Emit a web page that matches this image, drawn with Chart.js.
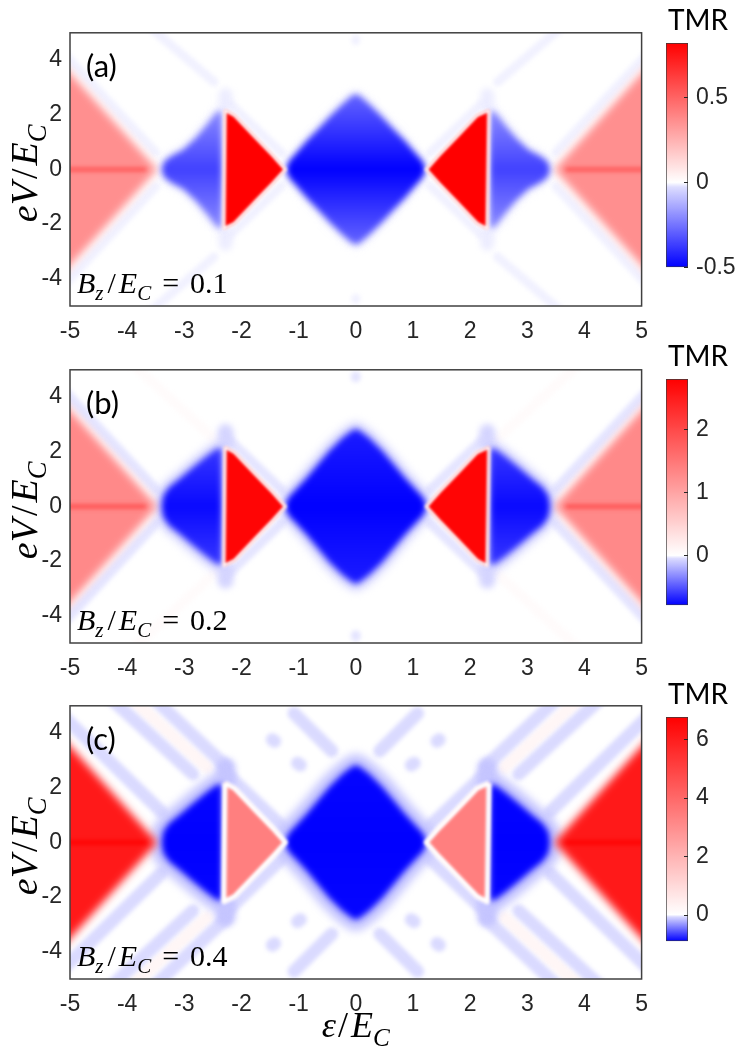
<!DOCTYPE html>
<html>
<head>
<meta charset="utf-8">
<script src="https://cdn.jsdelivr.net/npm/chart.js@4.4.1/dist/chart.umd.min.js"></script>
<style>
  html, body { margin: 0; padding: 0; background: #fff; }
  #page { position: relative; width: 747px; height: 1063px; overflow: hidden; background: #fff; }
  #page canvas { position: absolute; }
</style>
</head>
<body>
<div id="page"></div>
<script>
// axis ticks
const epsTicks = [-5, -4, -3, -2, -1, 0, 1, 2, 3, 4, 5];
const voltTicks = [-4, -2, 0, 2, 4];
const panelTags = ["(a)", "(b)", "(c)"];
const bzValues = ["0.1", "0.2", "0.4"];

// colour bar limits and ticks, one entry per panel
const cbLow = [-0.5, -0.79, -0.9];
const cbHigh = [0.82, 2.8, 6.76];
const cbTicks = [[-0.5, 0, 0.5], [0, 1, 2], [0, 2, 4, 6]];

// TMR level of each region, one entry per panel
const outerTmr = [0.36, 1.3, 6.1];
const outerAxisTmr = [0.55, 1.95, 6.76];
const lobeTmr = [-0.2, -0.6, -0.88];
const lobeCoreTmr = [-0.36, -0.76, -0.9];
const innerTmr = [0.82, 2.75, 3.4];
const diamondTmr = [-0.28, -0.7, -0.88];
const diamondCoreTmr = [-0.5, -0.79, -0.9];
const stripeTmr = [-0.012, -0.035, -0.06];
const haloTmr = [-0.015, -0.07, -0.14];
const pinkTmr = [0.01, 0.04, 0.25];

// region outlines (eps/E_C, eV/E_C)
const outerLeft = [[-5.4, 4.45], [-3.55, 0.18], [-3.47, 0], [-3.55, -0.18], [-5.4, -4.45]];
const outerRight = [[5.4, 4.45], [3.55, 0.18], [3.47, 0], [3.55, -0.18], [5.4, -4.45]];
const axisLeft = [-5.4, 0, -3.7, 0];
const axisRight = [5.4, 0, 3.7, 0];

const lobeThinLeft = [[-3.4, 0], [-3.35, 0.3], [-3.22, 0.5], [-3.02, 0.72], [-2.8, 1.15], [-2.62, 1.6], [-2.48, 1.98], [-2.4, 2.15], [-2.34, 2.12],
  [-2.34, -2.12], [-2.4, -2.15], [-2.48, -1.98], [-2.62, -1.6], [-2.8, -1.15], [-3.02, -0.72], [-3.22, -0.5], [-3.35, -0.3]];
const lobeThinRight = [[3.4, 0], [3.35, 0.3], [3.22, 0.5], [3.02, 0.72], [2.8, 1.15], [2.62, 1.6], [2.48, 1.98], [2.4, 2.15], [2.34, 2.12],
  [2.34, -2.12], [2.4, -2.15], [2.48, -1.98], [2.62, -1.6], [2.8, -1.15], [3.02, -0.72], [3.22, -0.5], [3.35, -0.3]];
const lobeFatLeft = [[-3.4, 0], [-3.37, 0.4], [-3.27, 0.7], [-3.08, 1.02], [-2.84, 1.45], [-2.6, 1.86], [-2.43, 2.12], [-2.34, 2.12],
  [-2.34, -2.12], [-2.43, -2.12], [-2.6, -1.86], [-2.84, -1.45], [-3.08, -1.02], [-3.27, -0.7], [-3.37, -0.4]];
const lobeFatRight = [[3.4, 0], [3.37, 0.4], [3.27, 0.7], [3.08, 1.02], [2.84, 1.45], [2.6, 1.86], [2.43, 2.12], [2.34, 2.12],
  [2.34, -2.12], [2.43, -2.12], [2.6, -1.86], [2.84, -1.45], [3.08, -1.02], [3.27, -0.7], [3.37, -0.4]];

const innerLeft = [[-2.29, 2.18], [-2.12, 1.98], [-1.75, 1.17], [-1.45, 0.52], [-1.23, 0], [-1.45, -0.52], [-1.75, -1.17], [-2.12, -1.98], [-2.31, -2.18]];
const innerRight = [[2.33, 2.18], [2.12, 1.98], [1.75, 1.17], [1.45, 0.52], [1.23, 0], [1.45, -0.52], [1.75, -1.17], [2.12, -1.98], [2.3, -2.18]];

const diamondThin = [[-1.22, 0], [-1.17, 0.3], [-1.05, 0.58], [-0.86, 1.05], [-0.65, 1.5], [-0.45, 1.95], [-0.24, 2.38], [-0.08, 2.68], [0, 2.76],
  [0.08, 2.68], [0.24, 2.38], [0.45, 1.95], [0.65, 1.5], [0.86, 1.05], [1.05, 0.58], [1.17, 0.3], [1.22, 0],
  [1.17, -0.3], [1.05, -0.58], [0.86, -1.05], [0.65, -1.5], [0.45, -1.95], [0.24, -2.38], [0.08, -2.68], [0, -2.76],
  [-0.08, -2.68], [-0.24, -2.38], [-0.45, -1.95], [-0.65, -1.5], [-0.86, -1.05], [-1.05, -0.58], [-1.17, -0.3]];
const diamondWide = [[-1.24, 0], [-1.18, 0.33], [-1.05, 0.62], [-0.86, 1.05], [-0.66, 1.55], [-0.46, 2.05], [-0.24, 2.5], [-0.08, 2.76], [0, 2.84],
  [0.08, 2.76], [0.24, 2.5], [0.46, 2.05], [0.66, 1.55], [0.86, 1.05], [1.05, 0.62], [1.18, 0.33], [1.24, 0],
  [1.18, -0.33], [1.05, -0.62], [0.86, -1.05], [0.66, -1.55], [0.46, -2.05], [0.24, -2.5], [0.08, -2.76], [0, -2.84],
  [-0.08, -2.76], [-0.24, -2.5], [-0.46, -2.05], [-0.66, -1.55], [-0.86, -1.05], [-1.05, -0.62], [-1.18, -0.33]];

// faint diagonal stripes, each [eps1, V1, eps2, V2]
const stripesOuter = [[-5.4, 4.9, -3.5, 0.62], [-5.4, -4.9, -3.5, -0.62], [5.4, 4.9, 3.5, 0.62], [5.4, -4.9, 3.5, -0.62]];
const stripesTopA = [[-3.65, 5.3, -2.48, 3.2], [-3.65, -5.3, -2.48, -3.2], [3.65, 5.3, 2.48, 3.2], [3.65, -5.3, 2.48, -3.2]];
const dotsAB = [[0, 4.76, 0, 4.72], [0, -4.76, 0, -4.72]];
const pinkB = [[-3.95, 5.3, -2.48, 2.47], [-3.95, -5.3, -2.48, -2.47], [3.95, 5.3, 2.48, 2.47], [3.95, -5.3, 2.48, -2.47]];
const stripesC = [
  [-5.4, 5.2, -3.4, 1.12], [-5.4, -5.2, -3.4, -1.12], [5.4, 5.2, 3.4, 1.12], [5.4, -5.2, 3.4, -1.12],
  [-4.35, 5.4, -2.85, 2.5], [-4.35, -5.4, -2.85, -2.5], [4.35, 5.4, 2.85, 2.5], [4.35, -5.4, 2.85, -2.5],
  [-3.6, 5.4, -2.28, 2.8], [-3.6, -5.4, -2.28, -2.8], [3.6, 5.4, 2.28, 2.8], [3.6, -5.4, 2.28, -2.8],
  [-1.08, 4.72, -0.42, 3.35], [-1.08, -4.72, -0.42, -3.35], [1.08, 4.72, 0.42, 3.35], [1.08, -4.72, 0.42, -3.35],
  [-1.46, 3.76, -1.42, 3.7], [-1.46, -3.76, -1.42, -3.7], [1.46, 3.76, 1.42, 3.7], [1.46, -3.76, 1.42, -3.7],
  [-1.02, 2.9, -0.97, 2.83], [-1.02, -2.9, -0.97, -2.83], [1.02, 2.9, 0.97, 2.83], [1.02, -2.9, 0.97, -2.83]
];
const pinkC = [[-4.0, 5.4, -2.6, 2.75], [-4.0, -5.4, -2.6, -2.75], [4.0, 5.4, 2.6, 2.75], [4.0, -5.4, 2.6, -2.75]];
const tipBlobs = [[-2.28, 2.3, -2.28, 2.72], [-2.28, -2.3, -2.28, -2.72], [2.3, 2.3, 2.3, 2.72], [2.3, -2.3, 2.3, -2.72]];
const neckBands = [[-2.2, 2.4, -1.3, 0.6], [-2.2, -2.4, -1.3, -0.6], [2.2, 2.4, 1.3, 0.6], [2.2, -2.4, 1.3, -0.6]];

// which outlines each panel uses, plus stroke widths (px)
const panelShapes = [
  { lobeL: lobeThinLeft, lobeR: lobeThinRight, diamond: diamondThin, stripes: stripesOuter.concat(stripesTopA, dotsAB), pink: [], haloW: 6, stripeW: 9, blobW: 14, rimW: 3 },
  { lobeL: lobeFatLeft, lobeR: lobeFatRight, diamond: diamondWide, stripes: stripesOuter.concat(dotsAB), pink: pinkB, haloW: 14, stripeW: 10, blobW: 16, rimW: 3 },
  { lobeL: lobeFatLeft, lobeR: lobeFatRight, diamond: diamondWide, stripes: stripesC, pink: pinkC, haloW: 22, stripeW: 13, blobW: 20, rimW: 5 }
];

// page layout (px)
const mapTop = [21, 358, 694];
const mapH = 285;
const cbTop = [43, 379, 717];
const cbH = [241, 243, 241];
const xAxisH = [40, 40, 80];

const tickFont = { family: '"Liberation Sans", Arial, sans-serif', size: 23 };
const tickColor = "#262626";

// blue-white-red map: white at zero, short pale step just below zero
function tmrColor(v, lo, hi) {
  if (v >= 0) {
    const t = Math.min(v / hi, 1);
    const g = Math.round(255 * (1 - t));
    return `rgb(255,${g},${g})`;
  }
  const t = Math.min(v / lo, 1);
  const s = t < 0.06 ? 1 - 0.14 * t / 0.06 : 0.86 * (1 - t) / 0.94;
  const g = Math.round(255 * s);
  return `rgb(${g},${g},255)`;
}

function poly(points, extra) {
  return Object.assign({
    data: points.concat([points[0]]).map(([x, y]) => ({ x, y })),
    showLine: true, fill: "shape", pointRadius: 0, borderWidth: 0, tension: 0, clip: 0
  }, extra);
}

function seg(s, color, width, blur) {
  return {
    data: [{ x: s[0], y: s[1] }, { x: s[2], y: s[3] }],
    showLine: true, fill: false, pointRadius: 0, borderColor: color, borderWidth: width,
    borderCapStyle: "round", clip: 0, blur: blur
  };
}

// vertical gradient: edge colour at +-reach, core colour on the V = 0 line
function vGrad(reach, edge, core) {
  return (c) => {
    const chart = c.chart;
    const y = chart.scales.y;
    if (!y || !chart.chartArea) return core;
    const g = chart.ctx.createLinearGradient(0, y.getPixelForValue(reach), 0, y.getPixelForValue(-reach));
    g.addColorStop(0, edge);
    g.addColorStop(0.5, core);
    g.addColorStop(1, edge);
    return g;
  };
}

function mapDatasets(p) {
  const cfg = panelShapes[p];
  const c = (v) => tmrColor(v, cbLow[p], cbHigh[p]);
  const list = []; // bottom to top
  cfg.pink.forEach(s => list.push(seg(s, c(pinkTmr[p]), cfg.stripeW, 2)));
  cfg.stripes.forEach(s => list.push(seg(s, c(stripeTmr[p]), cfg.stripeW, 2)));
  neckBands.forEach(s => list.push(seg(s, c(stripeTmr[p]), cfg.stripeW, 2)));
  tipBlobs.forEach(s => list.push(seg(s, c(haloTmr[p]), cfg.blobW, 3)));
  [cfg.lobeL, cfg.lobeR, cfg.diamond].forEach(sh => list.push(poly(sh, {
    backgroundColor: c(haloTmr[p]), borderColor: c(haloTmr[p]), borderWidth: cfg.haloW, borderJoinStyle: "round", blur: 4
  })));
  [outerLeft, outerRight].forEach(sh => list.push(poly(sh, { backgroundColor: c(outerTmr[p]), blur: 4 })));
  [axisLeft, axisRight].forEach(s => list.push(seg(s, c(outerAxisTmr[p]), 4, 2)));
  [cfg.lobeL, cfg.lobeR].forEach(sh => list.push(poly(sh, {
    backgroundColor: vGrad(2.2, c(lobeTmr[p]), c(lobeCoreTmr[p])), blur: 3
  })));
  list.push(poly(cfg.diamond, { backgroundColor: vGrad(2.8, c(diamondTmr[p]), c(diamondCoreTmr[p])), blur: 3 }));
  [innerLeft, innerRight].forEach(sh => list.push(poly(sh, {
    backgroundColor: c(innerTmr[p]), borderColor: "#fff", borderWidth: cfg.rimW, borderJoinStyle: "round", blur: 1.5
  })));
  return list.reverse(); // index 0 is drawn last
}

// per-dataset blur: set the filter for the next dataset before it is drawn
function setBlur(chart, pos) {
  const metas = chart.getSortedVisibleDatasetMetas();
  const ds = pos >= 0 ? chart.data.datasets[metas[pos].index] : null;
  chart.ctx.filter = ds && ds.blur ? `blur(${ds.blur}px)` : "none";
}
const softEdges = {
  id: "softEdges",
  beforeDatasetsDraw(chart) { setBlur(chart, chart.getSortedVisibleDatasetMetas().length - 1); },
  afterDatasetDraw(chart, args) {
    const metas = chart.getSortedVisibleDatasetMetas();
    setBlur(chart, metas.indexOf(args.meta) - 1);
  },
  afterDatasetsDraw(chart) { chart.ctx.filter = "none"; }
};

function mathRun(ctx, pieces, x, y, size, draw) {
  let cx = x;
  for (const p of pieces) {
    const fs = p.sub ? size * 0.7 : size;
    ctx.font = (p.it ? "italic " : "") + fs + 'px "Liberation Serif", "DejaVu Serif", serif';
    cx += p.pre || 0;
    if (draw) ctx.fillText(p.t, cx, y + (p.sub ? size * 0.24 : 0));
    cx += ctx.measureText(p.t).width + (p.post || 0);
  }
  return cx - x;
}

const yTitle = [{ t: "e", it: 1 }, { t: "V", it: 1, post: 1 }, { t: "/", pre: 2, post: 3 }, { t: "E", it: 1 }, { t: "C", it: 1, sub: 1 }];
const xTitle = [{ t: "\u03b5", it: 1, post: 2 }, { t: "/", post: 3 }, { t: "E", it: 1 }, { t: "C", it: 1, sub: 1 }];

const panelText = {
  id: "panelText",
  afterDraw(chart, args, opts) {
    const ctx = chart.ctx;
    const a = chart.chartArea;
    ctx.save();
    ctx.strokeStyle = "#404040";
    ctx.lineWidth = 1.5;
    ctx.strokeRect(a.left, a.top, a.right - a.left, a.bottom - a.top);
    ctx.fillStyle = "#000";
    ctx.textAlign = "left";
    ctx.textBaseline = "alphabetic";
    ctx.font = "31px Lato, sans-serif";
    ctx.fillText(opts.tag, a.left + 16, a.top + 44);
    const bz = [{ t: "B", it: 1 }, { t: "z", it: 1, sub: 1, post: 3 }, { t: "/", pre: 1, post: 3 }, { t: "E", it: 1 },
      { t: "C", it: 1, sub: 1, post: 11 }, { t: "=", post: 11 }, { t: opts.bz }];
    mathRun(ctx, bz, a.left + 7, a.bottom - 13, 30, true);
    ctx.save();
    ctx.translate(a.left - 33, (a.top + a.bottom) / 2 + 4);
    ctx.rotate(-Math.PI / 2);
    const wy = mathRun(ctx, yTitle, 0, 0, 38, false);
    mathRun(ctx, yTitle, -wy / 2, 0, 38, true);
    ctx.restore();
    if (opts.xTitle) {
      const wx = mathRun(ctx, xTitle, 0, 0, 36, false);
      mathRun(ctx, xTitle, (a.left + a.right) / 2 - wx / 2, a.bottom + 58, 36, true);
    }
    ctx.restore();
  }
};

const barMarks = {
  id: "barMarks",
  afterDraw(chart) {
    const ctx = chart.ctx;
    const a = chart.chartArea;
    const y = chart.scales.y;
    ctx.save();
    ctx.strokeStyle = tickColor;
    ctx.lineWidth = 1;
    y.ticks.forEach(t => {
      const py = Math.round(y.getPixelForValue(t.value)) + 0.5;
      ctx.beginPath();
      ctx.moveTo(a.right - 4, py);
      ctx.lineTo(a.right, py);
      ctx.stroke();
    });
    ctx.fillStyle = "#000";
    ctx.font = "28px Lato, sans-serif";
    ctx.textBaseline = "alphabetic";
    ctx.fillText("TMR", a.left + 2, a.top - 13);
    ctx.restore();
  }
};

function barGradient(chart, lo, hi) {
  const y = chart.scales.y;
  const g = chart.ctx.createLinearGradient(0, y.getPixelForValue(hi), 0, y.getPixelForValue(lo));
  const n = 160;
  for (let i = 0; i <= n; i++) {
    const v = hi + (lo - hi) * i / n;
    g.addColorStop(i / n, tmrColor(v, lo, hi));
  }
  g.addColorStop(hi / (hi - lo), "#fff");
  return g;
}

const page = document.getElementById("page");
function addCanvas(left, top, w, h) {
  const c = document.createElement("canvas");
  c.width = w; c.height = h;
  c.style.left = left + "px"; c.style.top = top + "px";
  c.style.width = w + "px"; c.style.height = h + "px";
  page.appendChild(c);
  return c;
}

for (let p = 0; p < 3; p++) {
  const mapCanvas = addCanvas(0, mapTop[p] - 10, 660, 10 + mapH + xAxisH[p]);
  new Chart(mapCanvas, {
    type: "scatter",
    data: { datasets: mapDatasets(p) },
    options: {
      responsive: false, animation: false, events: [],
      layout: { padding: { top: 10, right: 8, left: 0, bottom: 0 } },
      plugins: {
        legend: { display: false }, tooltip: { enabled: false }, colors: { enabled: false },
        panelText: { tag: panelTags[p], bz: bzValues[p], xTitle: p === 2 }
      },
      scales: {
        x: {
          type: "linear", min: -5, max: 5,
          grid: { display: false, drawTicks: false }, border: { display: false },
          afterBuildTicks: s => { s.ticks = epsTicks.map(v => ({ value: v })); },
          afterFit: s => { s.height = xAxisH[p]; },
          ticks: { color: tickColor, font: tickFont, padding: 12, maxRotation: 0, autoSkip: false, callback: v => String(v) }
        },
        y: {
          type: "linear", min: -5, max: 5,
          grid: { display: false, drawTicks: false }, border: { display: false },
          afterBuildTicks: s => { s.ticks = voltTicks.map(v => ({ value: v })); },
          afterFit: s => { s.width = 70; },
          ticks: { color: tickColor, font: tickFont, padding: 8, autoSkip: false, callback: v => String(v) }
        }
      }
    },
    plugins: [softEdges, panelText]
  });

  const lo = cbLow[p], hi = cbHigh[p];
  const barCanvas = addCanvas(660, cbTop[p] - 40, 87, cbH[p] + 45);
  new Chart(barCanvas, {
    type: "bar",
    data: {
      labels: ["TMR"],
      datasets: [{
        data: [[lo, hi]],
        backgroundColor: c => (c.chart.chartArea ? barGradient(c.chart, lo, hi) : "#fff"),
        borderColor: "#3a3a3a", borderWidth: 1, borderSkipped: false,
        barPercentage: 1, categoryPercentage: 1
      }]
    },
    options: {
      responsive: false, animation: false, events: [],
      layout: { padding: { top: 40, bottom: 5, left: 6, right: 0 } },
      plugins: { legend: { display: false }, tooltip: { enabled: false }, colors: { enabled: false } },
      scales: {
        x: { display: false },
        y: {
          position: "right", min: lo, max: hi,
          grid: { display: false, drawTicks: false }, border: { display: false },
          afterBuildTicks: s => { s.ticks = cbTicks[p].map(v => ({ value: v })); },
          afterFit: s => { s.width = 59; },
          ticks: { color: tickColor, font: tickFont, padding: 8, callback: v => String(v) }
        }
      }
    },
    plugins: [barMarks]
  });
}
</script>
</body>
</html>
